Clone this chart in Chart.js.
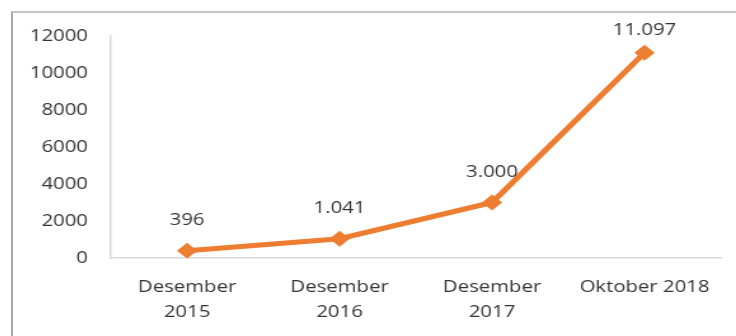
<!DOCTYPE html>
<html>
<head>
<meta charset="utf-8">
<script src="https://cdn.jsdelivr.net/npm/chart.js@4.4.1/dist/chart.umd.min.js"></script>
<style>
  html, body { margin: 0; padding: 0; background: #fff; }
  #frame {
    position: absolute; left: 11px; top: 11px;
    width: 725px; height: 325px;
    border-left: 2px solid #a8a8a8;
    border-top: 2px solid #c4c4c4;
    box-sizing: border-box;
    overflow: hidden;
  }
  #chart { display: block; }
</style>
</head>
<body>
<div id="frame"><canvas id="chart"></canvas></div>
<script>
// Jumlah per periode
const periods = [
    ['Desember', '2015'],
    ['Desember', '2016'],
    ['Desember', '2017'],
    'Oktober 2018'
];
const totals = [396, 1041, 3000, 11097];
const yTicks = [0, 2000, 4000, 6000, 8000, 10000, 12000];

const ORANGE = '#ED7D31';
const TEXT = '#333333';
const FONT = { family: '"Open Sans", sans-serif', size: 16, lineHeight: 1.55 };

// Canvas is drawn narrower and stretched horizontally
const STRETCH = 1.27;
const cssW = 723, cssH = 323;
const canvas = document.getElementById('chart');
canvas.width = Math.round(cssW / STRETCH);
canvas.height = cssH;
canvas.style.width = cssW + 'px';
canvas.style.height = cssH + 'px';

function formatNum(v) {
    return String(v).replace(/\B(?=(\d{3})+(?!\d))/g, '.');
}

// value above each point, kept from running off the top
const valueLabels = {
    id: 'valueLabels',
    afterDatasetsDraw(chart) {
        const ctx = chart.ctx;
        const meta = chart.getDatasetMeta(0);
        const minY = chart.chartArea.top - 6;
        ctx.save();
        ctx.font = `${FONT.size}px ${FONT.family}`;
        ctx.fillStyle = TEXT;
        ctx.textAlign = 'center';
        ctx.textBaseline = 'middle';
        meta.data.forEach((pt, i) => {
            ctx.fillText(formatNum(totals[i]), pt.x, Math.max(pt.y - 30, minY));
        });
        ctx.restore();
    }
};

new Chart(canvas, {
    type: 'line',
    data: {
        labels: periods,
        datasets: [{
            data: totals,
            borderColor: ORANGE,
            backgroundColor: ORANGE,
            borderWidth: 5,
            pointStyle: 'rectRot',
            pointRadius: 8,
            pointBorderWidth: 0,
            tension: 0
        }]
    },
    options: {
        responsive: false,
        animation: false,
        devicePixelRatio: 1,
        layout: { padding: { top: 23, right: 12, left: 0, bottom: 0 } },
        plugins: {
            legend: { display: false },
            tooltip: { enabled: false }
        },
        scales: {
            x: {
                offset: true,
                grid: { display: false, drawTicks: false },
                border: { display: true, color: '#d9d9d9', width: 1.5 },
                ticks: { color: TEXT, font: FONT, padding: 17, maxRotation: 0, autoSkip: false },
                afterFit(scale) { scale.height = 78; }
            },
            y: {
                min: 0,
                max: 12000,
                afterBuildTicks(scale) { scale.ticks = yTicks.map(v => ({ value: v })); },
                grid: { display: false, drawTicks: false },
                border: { display: true, color: '#d9d9d9', width: 1.5 },
                ticks: { color: TEXT, font: FONT, padding: 18, callback: v => String(v) },
                afterFit(scale) {
                    scale.width = 77;
                    scale.paddingTop = 0;
                    scale.paddingBottom = 0;
                }
            }
        }
    },
    plugins: [valueLabels]
});
</script>
</body>
</html>
